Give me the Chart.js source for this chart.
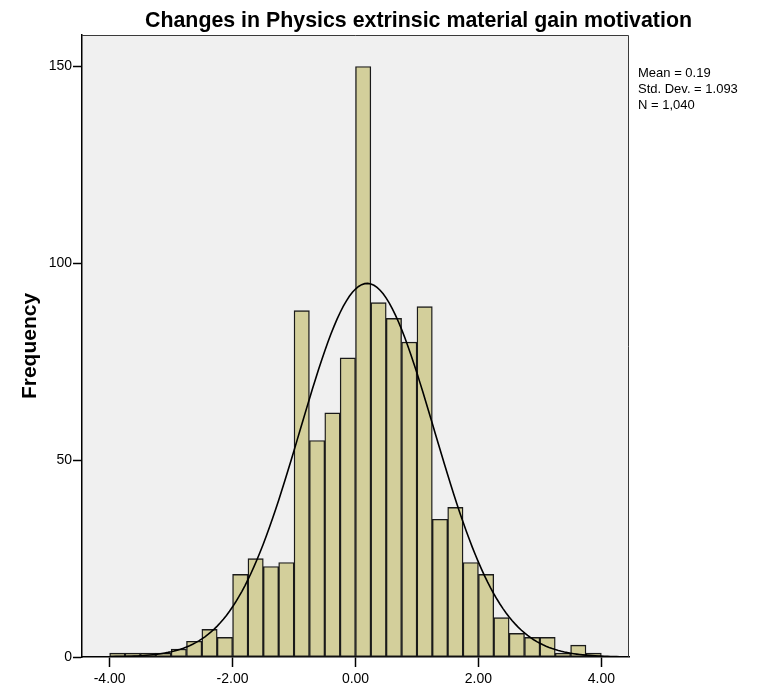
<!DOCTYPE html>
<html>
<head>
<meta charset="utf-8">
<script src="https://cdn.jsdelivr.net/npm/chart.js@4/dist/chart.umd.min.js"></script>
<style>
  html, body { margin: 0; padding: 0; background: #ffffff; }
  canvas { display: block; }
</style>
</head>
<body>
<canvas id="c" width="762" height="692"></canvas>
<script>
// ---- Data ----
const TITLE = 'Changes in Physics extrinsic material gain motivation';
const Y_TITLE = 'Frequency';
const BIN_STARTS = [-4.00, -3.75, -3.50, -3.25, -3.00, -2.75, -2.50, -2.25,
                    -2.00, -1.75, -1.50, -1.25, -1.00, -0.75, -0.50, -0.25,
                     0.00,  0.25,  0.50,  0.75,  1.00,  1.25,  1.50,  1.75,
                     2.00,  2.25,  2.50,  2.75,  3.00,  3.25,  3.50,  3.75];
const FREQUENCIES = [1, 1, 1, 1, 2, 4, 7, 5,
                     21, 25, 23, 24, 88, 55, 62, 76,
                     150, 90, 86, 80, 89, 35, 38, 24,
                     21, 10, 6, 5, 5, 1, 3, 1];
const BIN_WIDTH = 0.25;
const X_TICKS = [-4, -2, 0, 2, 4];
const Y_TICKS = [0, 50, 100, 150];
const STATS_LINES = ['Mean = 0.19', 'Std. Dev. = 1.093', 'N = 1,040'];
const MEAN = 0.19;
const STD_DEV = 1.093;
const N_CASES = 1040;

// ---- Build datasets ----
const barData = BIN_STARTS.map((s, i) => ({ x: s + BIN_WIDTH / 2, y: FREQUENCIES[i] }));
// Fitted normal curve (scaled to counts per bin), as drawn by the original histogram
const curveData = [];
for (let k = -89; k <= 89; k++) {
  const x = k * 0.05;
  const z = (x - MEAN) / STD_DEV;
  const y = N_CASES * BIN_WIDTH / (STD_DEV * Math.sqrt(2 * Math.PI)) * Math.exp(-0.5 * z * z);
  curveData.push({ x: x, y: y });
}

const FONT = "'Liberation Sans', Arial, sans-serif";

const decor = {
  id: 'decor',
  beforeDraw(chart) {
    const { ctx, chartArea: a } = chart;
    ctx.save();
    ctx.fillStyle = '#f0f0f0';
    ctx.fillRect(a.left, a.top, a.right - a.left, a.bottom - a.top);
    ctx.restore();
  },
  afterDraw(chart) {
    const { ctx, chartArea: a } = chart;
    ctx.save();
    // frame top & right
    ctx.strokeStyle = '#3a3a3a';
    ctx.lineWidth = 1;
    ctx.beginPath();
    ctx.moveTo(a.left, a.top + 0.5);
    ctx.lineTo(a.right - 0.5, a.top + 0.5);
    ctx.lineTo(a.right - 0.5, a.bottom);
    ctx.stroke();
    // title
    ctx.fillStyle = '#000';
    ctx.font = 'bold 22px ' + FONT;
    ctx.textBaseline = 'alphabetic';
    ctx.textAlign = 'left';
    const w = ctx.measureText(TITLE).width;
    const target = 547;
    ctx.save();
    ctx.translate(145, 27);
    ctx.scale(target / w, 1);
    ctx.fillText(TITLE, 0, 0);
    ctx.restore();
    // stats
    ctx.font = '13px ' + FONT;
    ctx.textBaseline = 'middle';
    STATS_LINES.forEach((t, i) => ctx.fillText(t, 638, 73 + i * 16));
    ctx.restore();
  }
};

new Chart(document.getElementById('c'), {
  type: 'bar',
  data: {
    datasets: [
      {
        type: 'line',
        data: curveData,
        borderColor: '#000',
        borderWidth: 1.6,
        pointRadius: 0,
        tension: 0,
        fill: false,
        order: 0
      },
      {
        type: 'bar',
        data: barData,
        backgroundColor: '#d3cf9b',
        borderColor: '#1a1a1a',
        borderWidth: 1.4,
        borderSkipped: false,
        barPercentage: 1.0,
        categoryPercentage: 1.0,
        order: 1
      }
    ]
  },
  options: {
    responsive: false,
    animation: false,
    layout: { padding: { left: 0, right: 133, top: 35, bottom: 0 } },
    plugins: { legend: { display: false }, tooltip: { enabled: false }, title: { display: false } },
    scales: {
      x: {
        type: 'linear',
        offset: false,
        min: -4.45,
        max: 4.45,
        afterBuildTicks: (s) => { s.ticks = X_TICKS.map(v => ({ value: v })); },
        afterFit: (s) => { s.height = 35; },
        ticks: {
          color: '#000',
          font: { family: FONT, size: 14 },
          padding: 4,
          maxRotation: 0,
          callback: (v) => Number(v).toFixed(2)
        },
        grid: { offset: false, drawOnChartArea: false, drawTicks: true, tickLength: 10, tickColor: '#000', tickWidth: 1.5 },
        border: { display: true, color: '#000', width: 1.5 }
      },
      y: {
        type: 'linear',
        min: 0,
        max: 158,
        afterBuildTicks: (s) => { s.ticks = Y_TICKS.map(v => ({ value: v })); },
        afterFit: (s) => { s.width = 82; },
        ticks: {
          color: '#000',
          font: { family: FONT, size: 14 },
          padding: 1
        },
        title: {
          display: true,
          text: Y_TITLE,
          color: '#000',
          font: { family: FONT, size: 21, weight: 'bold' },
          padding: { top: 18, bottom: 0 }
        },
        grid: { drawOnChartArea: false, drawTicks: true, tickLength: 9, tickColor: '#000', tickWidth: 1.5 },
        border: { display: true, color: '#000', width: 1.5 }
      }
    }
  },
  plugins: [decor]
});
</script>
</body>
</html>
